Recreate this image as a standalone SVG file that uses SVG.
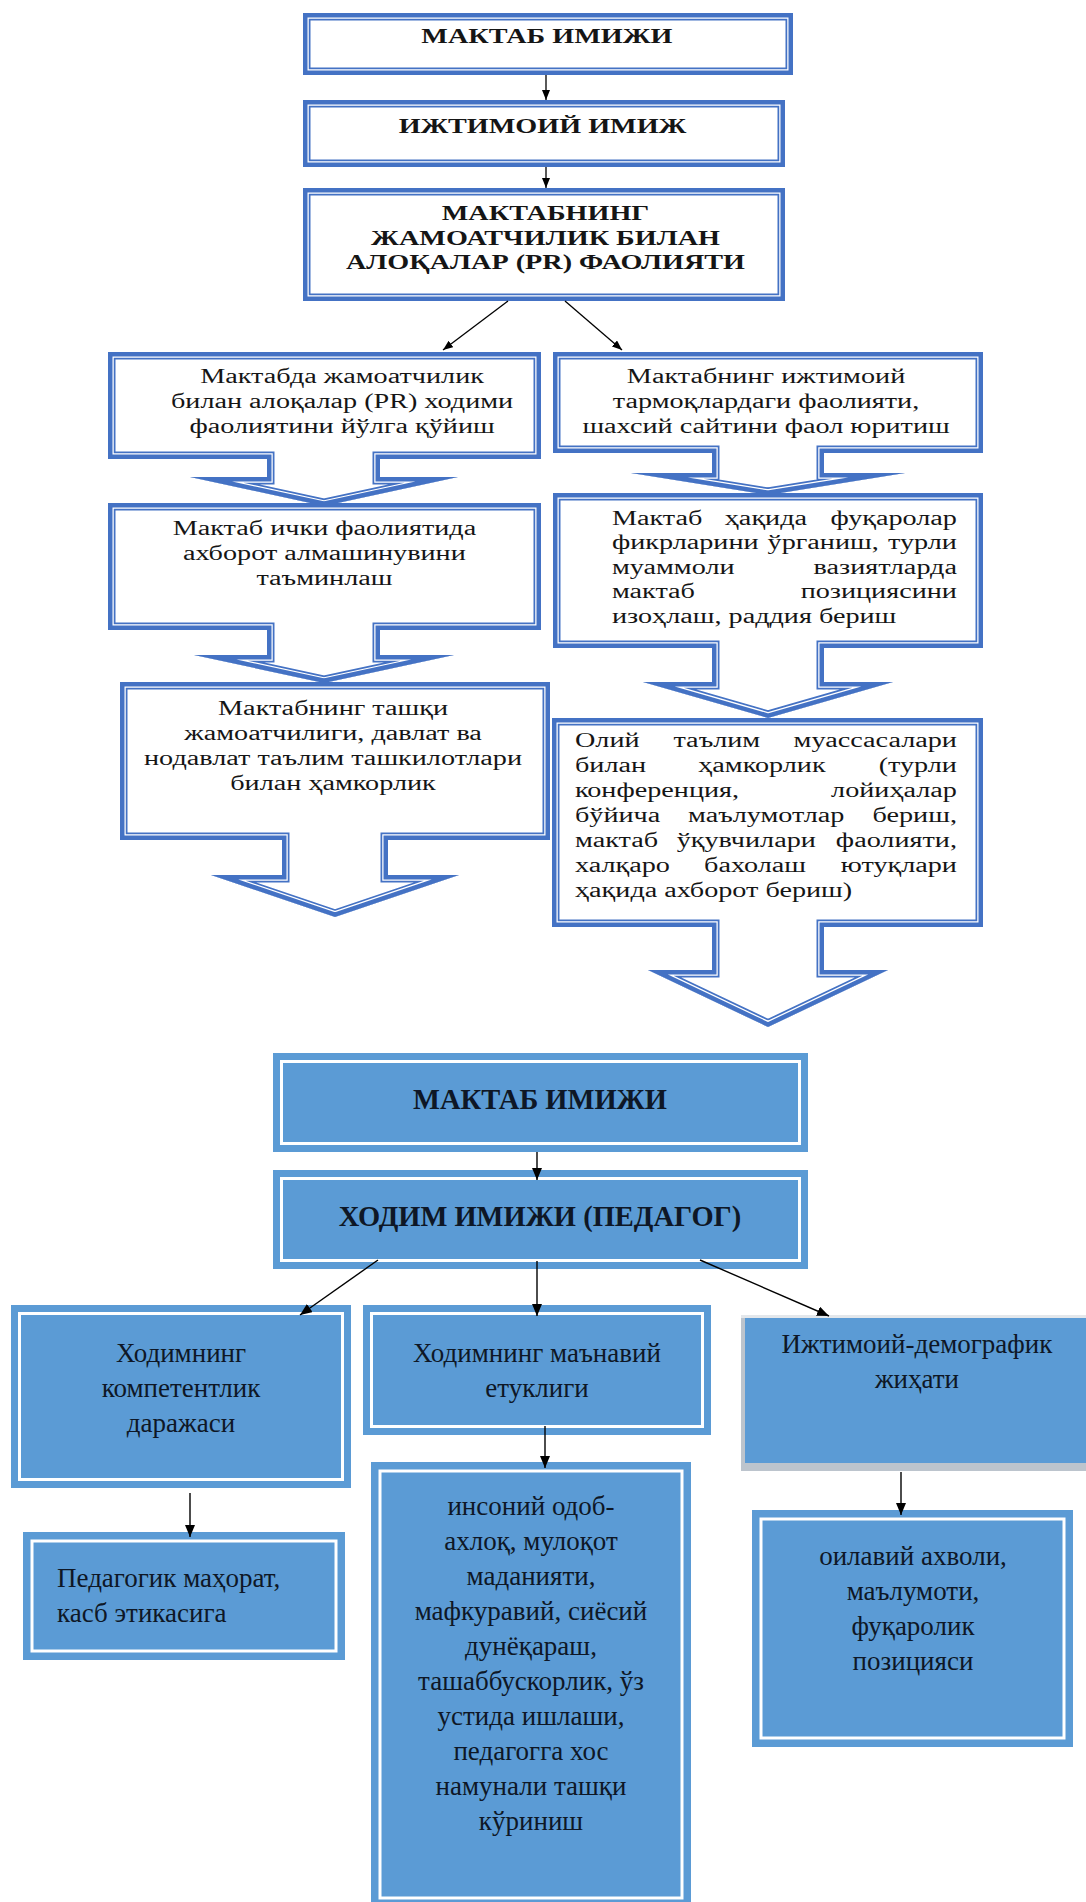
<svg xmlns="http://www.w3.org/2000/svg" xmlns:xlink="http://www.w3.org/1999/xlink" width="1086" height="1902" viewBox="0 0 1086 1902">
<style>
.tw{fill:#fff}
.b1{fill:none;stroke:#4472C4;stroke-width:15}
.b2{fill:none;stroke:#fff;stroke-width:11.5}
.b3{fill:none;stroke:#4472C4;stroke-width:9}
.ht{font-family:"Liberation Serif","Times New Roman",serif;font-weight:bold;font-size:20px;fill:#151515;text-anchor:middle}
.bt{font-family:"Liberation Serif","Times New Roman",serif;font-size:20px;fill:#151515}
.c{text-anchor:middle}
.e{text-anchor:end}
.bx{fill:#5B9BD5}
.wl{fill:none;stroke:#fff;stroke-width:3}
.t2{font-family:"Liberation Serif","Times New Roman",serif;font-size:27px;fill:#0e1726;text-anchor:middle}
.t2l{font-family:"Liberation Serif","Times New Roman",serif;font-size:27px;fill:#0e1726}
.h2{font-family:"Liberation Serif","Times New Roman",serif;font-size:28.5px;font-weight:bold;fill:#0e1726;text-anchor:middle}
.cn{stroke:#000;stroke-width:1.3;fill:none;marker-end:url(#ah)}
.cn2{stroke:#000;stroke-width:1.4;fill:none;marker-end:url(#ah2)}
</style>
<defs>
<marker id="ah" viewBox="0 0 10 8" refX="10" refY="4" markerWidth="10" markerHeight="8" markerUnits="userSpaceOnUse" orient="auto"><path d="M0,0 L10,4 L0,8 Z" fill="#000"/></marker>
<marker id="ah2" viewBox="0 0 12 10" refX="12" refY="5" markerWidth="12" markerHeight="10" markerUnits="userSpaceOnUse" orient="auto"><path d="M0,0 L12,5 L0,10 Z" fill="#000"/></marker>
<path id="pT1" d="M303,13 H793 V75 H303 Z"/>
<path id="pT2" d="M303,100 H785 V167 H303 Z"/>
<path id="pT3" d="M303,188 H785 V301 H303 Z"/>
<path id="pL1" d="M108,352 H541 V459 H380 V477 H458 L324,506 L190,477 H267 V459 H108 Z"/>
<path id="pL2" d="M108,503 H541 V630 H380 V655 H454 L324,683 L194,655 H267 V630 H108 Z"/>
<path id="pL3" d="M120,682 H550 V840 H388 V875 H459 L335,917 L211,875 H282 V840 H120 Z"/>
<path id="pR1" d="M553,352 H983 V453 H824 V473 H905 L768,495 L631,473 H712 V453 H553 Z"/>
<path id="pR2" d="M553,493 H983 V648 H824 V682 H893 L768,718 L643,682 H712 V648 H553 Z"/>
<path id="pR3" d="M552,718 H983 V927 H824 V970 H888 L768,1027 L648,970 H712 V927 H552 Z"/>
<clipPath id="cT1"><use xlink:href="#pT1"/></clipPath>
<clipPath id="cT2"><use xlink:href="#pT2"/></clipPath>
<clipPath id="cT3"><use xlink:href="#pT3"/></clipPath>
<clipPath id="cL1"><use xlink:href="#pL1"/></clipPath>
<clipPath id="cL2"><use xlink:href="#pL2"/></clipPath>
<clipPath id="cL3"><use xlink:href="#pL3"/></clipPath>
<clipPath id="cR1"><use xlink:href="#pR1"/></clipPath>
<clipPath id="cR2"><use xlink:href="#pR2"/></clipPath>
<clipPath id="cR3"><use xlink:href="#pR3"/></clipPath>
</defs>
<rect width="1086" height="1902" fill="#fff"/>

<g id="node-maktab-imiji-top">
<use xlink:href="#pT1" class="tw"/>
<g clip-path="url(#cT1)"><use xlink:href="#pT1" class="b1"/><use xlink:href="#pT1" class="b2"/><use xlink:href="#pT1" class="b3"/></g>
<g transform="scale(1.41,1)"><text class="ht" x="387.9" y="43">МАКТАБ ИМИЖИ</text></g>
</g>
<g id="node-ijtimoiy-imij">
<use xlink:href="#pT2" class="tw"/>
<g clip-path="url(#cT2)"><use xlink:href="#pT2" class="b1"/><use xlink:href="#pT2" class="b2"/><use xlink:href="#pT2" class="b3"/></g>
<g transform="scale(1.41,1)"><text class="ht" x="384.8" y="133">ИЖТИМОИЙ ИМИЖ</text></g>
</g>
<g id="node-pr-faoliyati">
<use xlink:href="#pT3" class="tw"/>
<g clip-path="url(#cT3)"><use xlink:href="#pT3" class="b1"/><use xlink:href="#pT3" class="b2"/><use xlink:href="#pT3" class="b3"/></g>
<g transform="scale(1.41,1)">
<text class="ht" x="386.9" y="220">МАКТАБНИНГ</text>
<text class="ht" x="386.9" y="245">ЖАМОАТЧИЛИК БИЛАН</text>
<text class="ht" x="386.9" y="269">АЛОҚАЛАР (PR) ФАОЛИЯТИ</text>
</g>
</g>

<g id="node-L1">
<use xlink:href="#pL1" class="tw"/>
<g clip-path="url(#cL1)"><use xlink:href="#pL1" class="b1"/><use xlink:href="#pL1" class="b2"/><use xlink:href="#pL1" class="b3"/></g>
<g transform="scale(1.41,1)" class="bt c">
<text x="242.6" y="383">Мактабда жамоатчилик</text>
<text x="242.6" y="408">билан алоқалар (PR) ходими</text>
<text x="242.6" y="433">фаолиятини йўлга қўйиш</text>
</g>
</g>
<g id="node-L2">
<use xlink:href="#pL2" class="tw"/>
<g clip-path="url(#cL2)"><use xlink:href="#pL2" class="b1"/><use xlink:href="#pL2" class="b2"/><use xlink:href="#pL2" class="b3"/></g>
<g transform="scale(1.41,1)" class="bt c">
<text x="230.1" y="535">Мактаб ички фаолиятида</text>
<text x="230.1" y="560">ахборот алмашинувини</text>
<text x="230.1" y="585">таъминлаш</text>
</g>
</g>
<g id="node-L3">
<use xlink:href="#pL3" class="tw"/>
<g clip-path="url(#cL3)"><use xlink:href="#pL3" class="b1"/><use xlink:href="#pL3" class="b2"/><use xlink:href="#pL3" class="b3"/></g>
<g transform="scale(1.41,1)" class="bt c">
<text x="236.2" y="715">Мактабнинг ташқи</text>
<text x="236.2" y="740">жамоатчилиги, давлат ва</text>
<text x="236.2" y="765">нодавлат таълим ташкилотлари</text>
<text x="236.2" y="790">билан ҳамкорлик</text>
</g>
</g>

<g id="node-R1">
<use xlink:href="#pR1" class="tw"/>
<g clip-path="url(#cR1)"><use xlink:href="#pR1" class="b1"/><use xlink:href="#pR1" class="b2"/><use xlink:href="#pR1" class="b3"/></g>
<g transform="scale(1.41,1)" class="bt c">
<text x="543.3" y="383">Мактабнинг ижтимоий</text>
<text x="543.3" y="408">тармоқлардаги фаолияти,</text>
<text x="543.3" y="433">шахсий сайтини фаол юритиш</text>
</g>
</g>
<g id="node-R2">
<use xlink:href="#pR2" class="tw"/>
<g clip-path="url(#cR2)"><use xlink:href="#pR2" class="b1"/><use xlink:href="#pR2" class="b2"/><use xlink:href="#pR2" class="b3"/></g>
<g transform="scale(1.41,1)" class="bt">
<text y="525"><tspan x="434">Мактаб</tspan><tspan x="543.2" class="c">ҳақида</tspan><tspan x="678.7" class="e">фуқаролар</tspan></text>
<text y="549.5"><tspan x="434">фикрларини</tspan><tspan x="583.8" class="c">ўрганиш,</tspan><tspan x="678.7" class="e">турли</tspan></text>
<text y="574"><tspan x="434">муаммоли</tspan><tspan x="678.7" class="e">вазиятларда</tspan></text>
<text y="598.5"><tspan x="434">мактаб</tspan><tspan x="678.7" class="e">позициясини</tspan></text>
<text x="434" y="623">изоҳлаш, раддия бериш</text>
</g>
</g>
<g id="node-R3">
<use xlink:href="#pR3" class="tw"/>
<g clip-path="url(#cR3)"><use xlink:href="#pR3" class="b1"/><use xlink:href="#pR3" class="b2"/><use xlink:href="#pR3" class="b3"/></g>
<g transform="scale(1.41,1)" class="bt">
<text y="747"><tspan x="407.8">Олий</tspan><tspan x="508.4" class="c">таълим</tspan><tspan x="678.7" class="e">муассасалари</tspan></text>
<text y="772"><tspan x="407.8">билан</tspan><tspan x="540.4" class="c">ҳамкорлик</tspan><tspan x="678.7" class="e">(турли</tspan></text>
<text y="797"><tspan x="407.8">конференция,</tspan><tspan x="678.7" class="e">лойиҳалар</tspan></text>
<text y="822"><tspan x="407.8">бўйича</tspan><tspan x="543.4" class="c">маълумотлар</tspan><tspan x="678.7" class="e">бериш,</tspan></text>
<text y="847"><tspan x="407.8">мактаб</tspan><tspan x="529.3" class="c">ўқувчилари</tspan><tspan x="678.7" class="e">фаолияти,</tspan></text>
<text y="872"><tspan x="407.8">халқаро</tspan><tspan x="535.5" class="c">бахолаш</tspan><tspan x="678.7" class="e">ютуқлари</tspan></text>
<text x="407.8" y="897">ҳақида ахборот бериш)</text>
</g>
</g>

<g id="node-maktab-imiji-bottom">
<rect class="bx" x="273" y="1053" width="535" height="99"/>
<rect class="wl" x="281.5" y="1061.5" width="518" height="82"/>
<text class="h2" x="540" y="1109">МАКТАБ ИМИЖИ</text>
</g>
<g id="node-xodim-imiji">
<rect class="bx" x="273" y="1170" width="535" height="99"/>
<rect class="wl" x="281.5" y="1178.5" width="518" height="82"/>
<text class="h2" x="540" y="1226">ХОДИМ ИМИЖИ (ПЕДАГОГ)</text>
</g>
<g id="node-kompetentlik">
<rect class="bx" x="11" y="1305" width="340" height="183"/>
<rect class="wl" x="19.5" y="1313.5" width="323" height="166"/>
<text class="t2" x="181" y="1362">Ходимнинг</text>
<text class="t2" x="181" y="1397">компетентлик</text>
<text class="t2" x="181" y="1432">даражаси</text>
</g>
<g id="node-manaviy">
<rect class="bx" x="363" y="1305" width="348" height="130"/>
<rect class="wl" x="371.5" y="1313.5" width="331" height="113"/>
<text class="t2" x="537" y="1362">Ходимнинг маънавий</text>
<text class="t2" x="537" y="1397">етуклиги</text>
</g>
<g id="node-demografik">
<rect x="741" y="1318" width="345" height="153" fill="#bcc4cd"/>
<rect x="741" y="1315" width="345" height="3" fill="#e3e7eb"/>
<rect class="bx" x="745" y="1318" width="341" height="145"/>
<text class="t2" x="917" y="1353">Ижтимоий-демографик</text>
<text class="t2" x="917" y="1388">жиҳати</text>
</g>
<g id="node-pedagogik">
<rect class="bx" x="23" y="1532" width="322" height="128"/>
<rect class="wl" x="32" y="1541" width="304" height="110"/>
<text class="t2l" x="57" y="1587">Педагогик маҳорат,</text>
<text class="t2l" x="57" y="1622">касб этикасига</text>
</g>
<g id="node-insoniy">
<rect class="bx" x="371" y="1462" width="320" height="445"/>
<rect class="wl" x="380" y="1471" width="302" height="427"/>
<text class="t2" x="531" y="1515">инсоний одоб-</text>
<text class="t2" x="531" y="1550">ахлоқ, мулоқот</text>
<text class="t2" x="531" y="1585">маданияти,</text>
<text class="t2" x="531" y="1620">мафкуравий, сиёсий</text>
<text class="t2" x="531" y="1655">дунёқараш,</text>
<text class="t2" x="531" y="1690">ташаббускорлик, ўз</text>
<text class="t2" x="531" y="1725">устида ишлаши,</text>
<text class="t2" x="531" y="1760">педагогга хос</text>
<text class="t2" x="531" y="1795">намунали ташқи</text>
<text class="t2" x="531" y="1830">кўриниш</text>
</g>
<g id="node-oilaviy">
<rect class="bx" x="752" y="1510" width="321" height="237"/>
<rect class="wl" x="761" y="1519" width="303" height="219"/>
<text class="t2" x="913" y="1565">оилавий ахволи,</text>
<text class="t2" x="913" y="1600">маълумоти,</text>
<text class="t2" x="913" y="1635">фуқаролик</text>
<text class="t2" x="913" y="1670">позицияси</text>
</g>

<g id="connectors">
<line class="cn" x1="546" y1="75" x2="546" y2="100"/>
<line class="cn" x1="546" y1="167" x2="546" y2="188"/>
<line class="cn" x1="508" y1="301" x2="443" y2="350"/>
<line class="cn" x1="565" y1="301" x2="622" y2="350"/>
<line class="cn2" x1="537" y1="1152" x2="537" y2="1180"/>
<line class="cn2" x1="378" y1="1260" x2="300" y2="1315"/>
<line class="cn2" x1="537" y1="1261" x2="537" y2="1316"/>
<line class="cn2" x1="700" y1="1260" x2="829" y2="1316"/>
<line class="cn2" x1="190" y1="1493" x2="190" y2="1537"/>
<line class="cn2" x1="545" y1="1426" x2="545" y2="1468"/>
<line class="cn2" x1="901" y1="1472" x2="901" y2="1515"/>
</g>
</svg>
